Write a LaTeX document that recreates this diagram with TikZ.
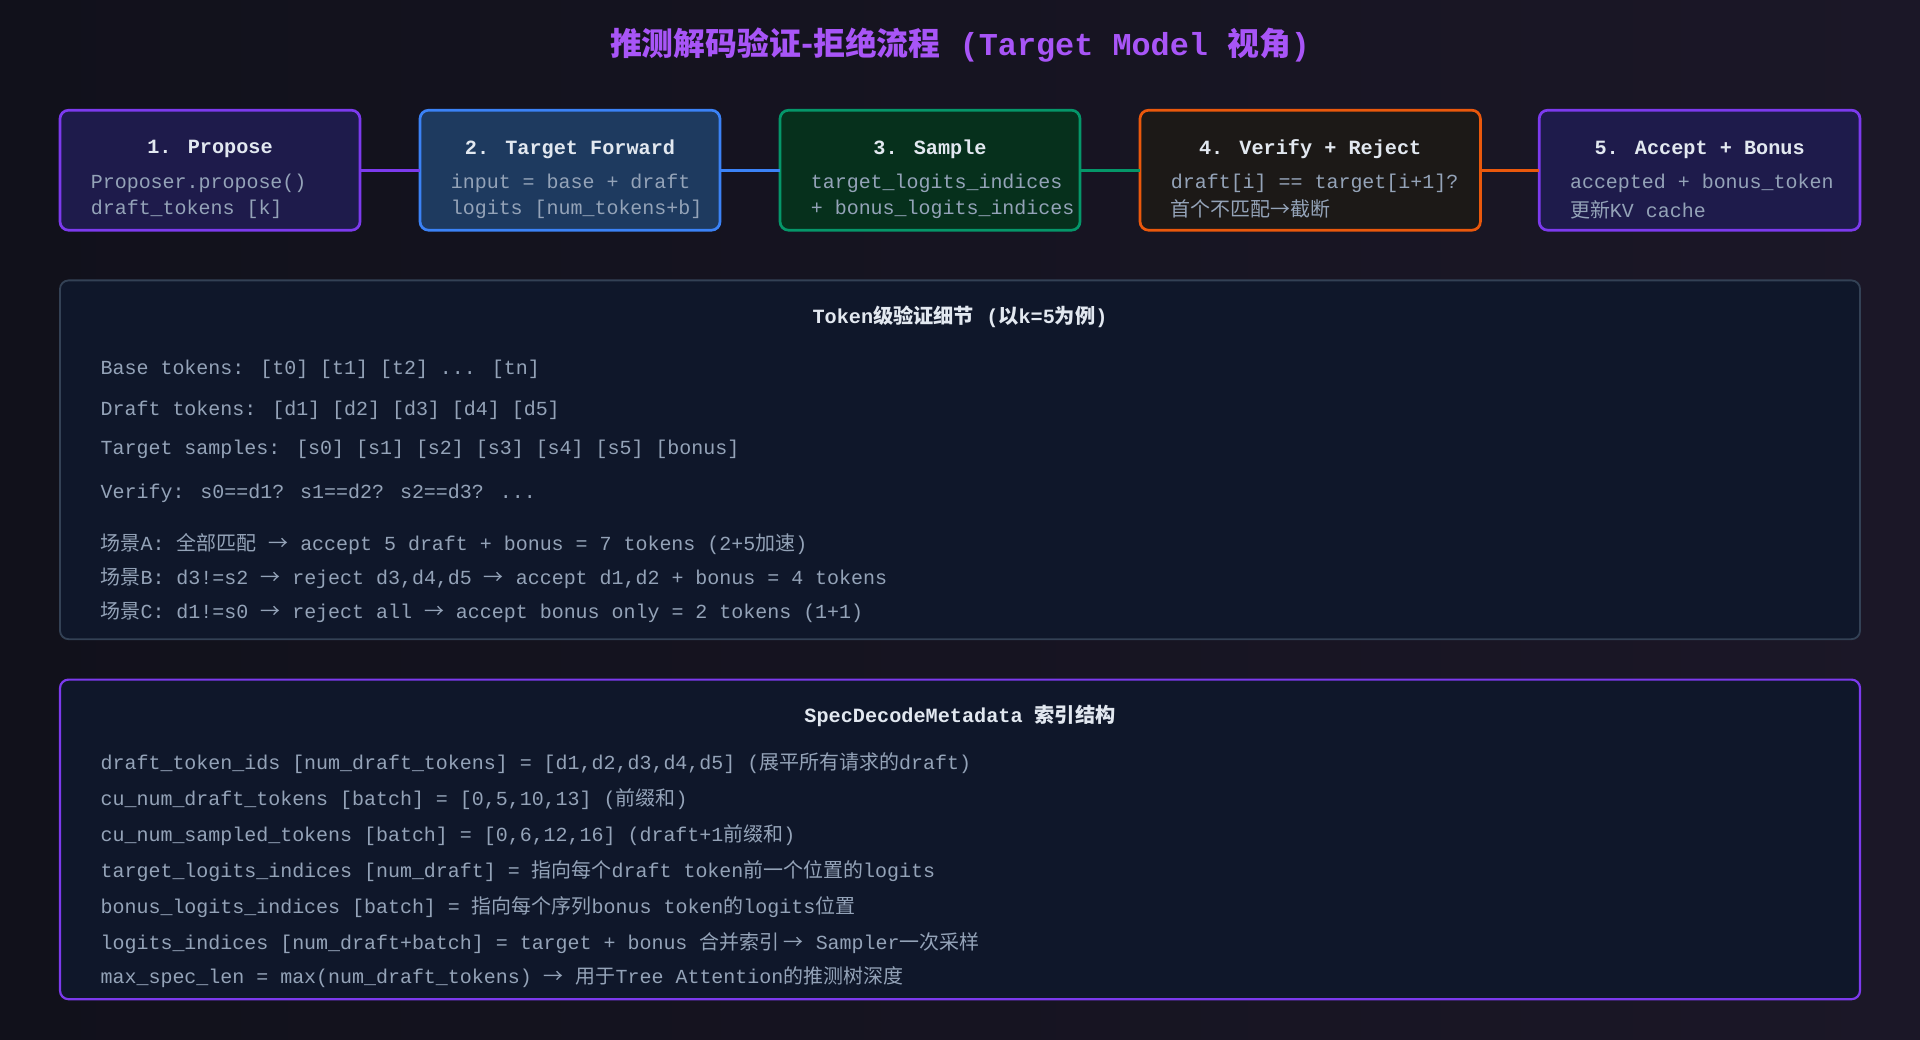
\documentclass[tikz,border=0pt]{standalone}
\usepackage{fontspec}
\setmainfont{Liberation Mono}
\newfontfamily\cjk{Noto Sans CJK SC}
\usetikzlibrary{positioning}
\definecolor{bgA}{HTML}{11111B}
\definecolor{bgB}{HTML}{1B1727}
\definecolor{ttl}{HTML}{A855F7}
\definecolor{hd}{HTML}{E2E8F0}
\definecolor{bd}{HTML}{94A3B8}
\definecolor{pF}{HTML}{1E1B4B}\definecolor{pB}{HTML}{7C3AED}
\definecolor{bF}{HTML}{1E3A5F}\definecolor{bB}{HTML}{3B82F6}
\definecolor{gF}{HTML}{06301C}\definecolor{gB}{HTML}{059669}
\definecolor{oF}{HTML}{1C1917}\definecolor{oB}{HTML}{EA580C}
\definecolor{panF}{HTML}{0F172A}\definecolor{panB}{HTML}{334155}
\tikzset{
 stepbox/.style={draw, line width=2.2pt, rounded corners=7pt},
 hdtxt/.style={text=hd, font=\fontsize{16.5}{18}\selectfont\bfseries, inner sep=0pt},
 bodytxt/.style={text=bd, font=\fontsize{16.3}{18}\selectfont, anchor=west, inner sep=0pt},
 link/.style={line width=2.2pt},
}
\begin{document}
\begin{tikzpicture}[x=1pt,y=-1pt]
\shade[left color=bgA, right color=bgB] (0,0) rectangle (1568,849);
\useasboundingbox (0,0) rectangle (1568,849);
\node[text=ttl, font=\fontsize{26}{30}\selectfont\bfseries, inner sep=0pt] (title) at (784,37) {{\cjk\bfseries 推测解码验证-拒绝流程} (Target Model {\cjk\bfseries 视角})};
% boxes
\draw[stepbox, draw=pB, fill=pF] (49,90) rectangle (294,188) coordinate[pos=0] (b1a);
\coordinate (b1l) at (49,139); \coordinate (b1r) at (294,139);
\draw[stepbox, draw=bB, fill=bF] (343,90) rectangle (588,188);
\coordinate (b2l) at (343,139); \coordinate (b2r) at (588,139);
\draw[stepbox, draw=gB, fill=gF] (637,90) rectangle (882,188);
\coordinate (b3l) at (637,139); \coordinate (b3r) at (882,139);
\draw[stepbox, draw=oB, fill=oF] (931,90) rectangle (1209,188);
\coordinate (b4l) at (931,139); \coordinate (b4r) at (1209,139);
\draw[stepbox, draw=pB, fill=pF] (1257,90) rectangle (1519,188);
\coordinate (b5l) at (1257,139); \coordinate (b5r) at (1519,139);
\draw[link, draw=pB] (b1r) -- (b2l);
\draw[link, draw=bB] (b2r) -- (b3l);
\draw[link, draw=gB] (b3r) -- (b4l);
\draw[link, draw=oB] (b4r) -- (b5l);
\node[hdtxt] (h1) at (171.5,122) {1. Propose};
\node[bodytxt] (t1a) at (74,150) {Proposer.propose()};
\node[bodytxt] (t1b) at (74,171) {draft\_tokens [k]};
\node[hdtxt] (h2) at (465.5,122) {2. Target Forward};
\node[bodytxt] (t2a) at (368,150) {input = base + draft};
\node[bodytxt] (t2b) at (368,171) {logits [num\_tokens+b]};
\node[hdtxt] (h3) at (759.5,122) {3. Sample};
\node[bodytxt] (t3a) at (662,150) {target\_logits\_indices};
\node[bodytxt] (t3b) at (662,171) {+ bonus\_logits\_indices};
\node[hdtxt] (h4) at (1070,122) {4. Verify + Reject};
\node[bodytxt] (t4a) at (956,150) {draft[i] == target[i+1]?};
\node[bodytxt] (t4b) at (956,171) {{\cjk 首个不匹配→截断}};
\node[hdtxt] (h5) at (1388,122) {5. Accept + Bonus};
\node[bodytxt] (t5a) at (1282,150) {accepted + bonus\_token};
\node[bodytxt] (t5b) at (1282,171) {{\cjk 更新}KV cache};
% panel 1
\draw[stepbox, line width=1.5pt, draw=panB, fill=panF] (49,229) rectangle (1519,522);
\node[hdtxt, font=\fontsize{16.5}{18}\selectfont\bfseries] (p1h) at (784,259) {Token{\cjk\bfseries 级验证细节} ({\cjk\bfseries 以}k=5{\cjk\bfseries 为例})};
\node[bodytxt] (l1) at (82,302) {Base tokens: [t0] [t1] [t2] ... [tn]};
\node[bodytxt] (l2) at (82,335) {Draft tokens: [d1] [d2] [d3] [d4] [d5]};
\node[bodytxt] (l3) at (82,367) {Target samples: [s0] [s1] [s2] [s3] [s4] [s5] [bonus]};
\node[bodytxt] (l4) at (82,403) {Verify: s0==d1? s1==d2? s2==d3? ...};
\node[bodytxt] (l5) at (82,444) {{\cjk 场景}A: {\cjk 全部匹配} {\cjk →} accept 5 draft + bonus = 7 tokens (2+5{\cjk 加速})};
\node[bodytxt] (l6) at (82,472) {{\cjk 场景}B: d3!=s2 {\cjk →} reject d3,d4,d5 {\cjk →} accept d1,d2 + bonus = 4 tokens};
\node[bodytxt] (l7) at (82,500) {{\cjk 场景}C: d1!=s0 {\cjk →} reject all {\cjk →} accept bonus only = 2 tokens (1+1)};
% panel 2
\draw[stepbox, line width=1.8pt, draw=pB, fill=panF] (49,555) rectangle (1519,816);
\node[hdtxt] (p2h) at (784,585) {SpecDecodeMetadata {\cjk\bfseries 索引结构}};
\node[bodytxt] (m1) at (82,623) {draft\_token\_ids [num\_draft\_tokens] = [d1,d2,d3,d4,d5] ({\cjk 展平所有请求的}draft)};
\node[bodytxt] (m2) at (82,653) {cu\_num\_draft\_tokens [batch] = [0,5,10,13] ({\cjk 前缀和})};
\node[bodytxt] (m3) at (82,682) {cu\_num\_sampled\_tokens [batch] = [0,6,12,16] (draft+1{\cjk 前缀和})};
\node[bodytxt] (m4) at (82,711) {target\_logits\_indices [num\_draft] = {\cjk 指向每个}draft token{\cjk 前一个位置的}logits};
\node[bodytxt] (m5) at (82,741) {bonus\_logits\_indices [batch] = {\cjk 指向每个序列}bonus token{\cjk 的}logits{\cjk 位置}};
\node[bodytxt] (m6) at (82,770) {logits\_indices [num\_draft+batch] = target + bonus {\cjk 合并索引 →} Sampler{\cjk 一次采样}};
\node[bodytxt] (m7) at (82,798) {max\_spec\_len = max(num\_draft\_tokens) {\cjk →} {\cjk 用于}Tree Attention{\cjk 的推测树深度}};
\end{tikzpicture}
\end{document}
